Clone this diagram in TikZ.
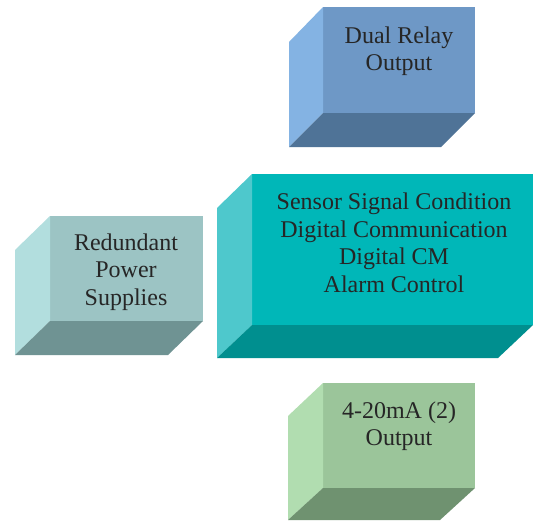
\documentclass[tikz,border=0pt]{standalone}
\usepackage{fontspec}
\setmainfont{Liberation Serif}
\begin{document}
\begin{tikzpicture}[x=1pt,y=-1pt,
  front/.style={draw=none,inner sep=0pt,outer sep=0pt,anchor=north west},
  lbl/.style={align=center,text=black!85,font=\fontsize{24}{27.5}\selectfont,inner sep=0pt}]
\useasboundingbox[fill=white] (0,0) rectangle (534,520);
\definecolor{bA}{HTML}{6E98C6}\definecolor{bAl}{HTML}{84B3E3}\definecolor{bAd}{HTML}{4F7397}
\definecolor{bB}{HTML}{9CC4C4}\definecolor{bBl}{HTML}{B2DEDE}\definecolor{bBd}{HTML}{6F9393}
\definecolor{bC}{HTML}{00B7B8}\definecolor{bCl}{HTML}{4EC8CC}\definecolor{bCd}{HTML}{008F8F}
\definecolor{bD}{HTML}{9BC59A}\definecolor{bDl}{HTML}{B1DDB0}\definecolor{bDd}{HTML}{6F9270}
% Box 1
\node[front,fill=bA,minimum width=152,minimum height=106] (relay) at (323,7) {};
\fill[bAl] (relay.north west) -- (relay.south west) -- ++(-34,34) -- ++(0,-105) -- cycle;
\fill[bAd] (relay.south west) -- (relay.south east) -- ++(-34,34) -- ++(-152,0) -- cycle;
\node[lbl] (relayt) at (399,51) {Dual Relay\\Output};
% Box 2
\node[front,fill=bB,minimum width=153,minimum height=105] (power) at (50,216) {};
\fill[bBl] (power.north west) -- (power.south west) -- ++(-35,34) -- ++(0,-105) -- cycle;
\fill[bBd] (power.south west) -- (power.south east) -- ++(-35,34) -- ++(-153,0) -- cycle;
\node[lbl] (powert) at (126,272) {Redundant\\Power\\Supplies};
% Box 3
\node[front,fill=bC,minimum width=281,minimum height=151] (core) at (252,174) {};
\fill[bCl] (core.north west) -- (core.south west) -- ++(-35,33) -- ++(0,-150) -- cycle;
\fill[bCd] (core.south west) -- (core.south east) -- ++(-35,33) -- ++(-281,0) -- cycle;
\node[lbl] (coret) at (394,243) {Sensor Signal Condition\\Digital Communication\\Digital CM\\Alarm Control};
% Box 4
\node[front,fill=bD,minimum width=152,minimum height=105] (ma) at (323,383) {};
\fill[bDl] (ma.north west) -- (ma.south west) -- ++(-35,32) -- ++(0,-104) -- cycle;
\fill[bDd] (ma.south west) -- (ma.south east) -- ++(-35,32) -- ++(-152,0) -- cycle;
\node[lbl] (mat) at (399,426) {4-20mA (2)\\Output};
\end{tikzpicture}
\end{document}
